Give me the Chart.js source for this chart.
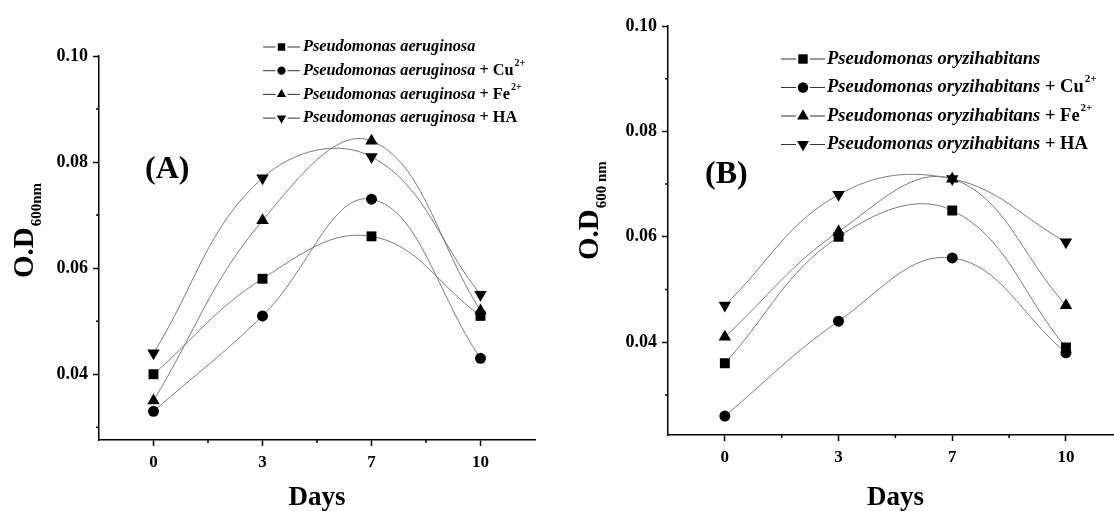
<!DOCTYPE html>
<html>
<head>
<meta charset="utf-8">
<script src="https://cdn.jsdelivr.net/npm/chart.js@4.4.1/dist/chart.umd.min.js"></script>
<style>
  html, body { margin: 0; padding: 0; background: #fff; overflow: hidden; width: 1114px; height: 511px; }
  #wrapA { position: absolute; left: 0; top: 0; }
  #wrapB { position: absolute; left: 557px; top: 0; }
</style>
</head>
<body>
<div id="wrapA"><canvas id="chartA" width="557" height="511"></canvas></div>
<div id="wrapB"><canvas id="chartB" width="573" height="511"></canvas></div>
<script>
// categories and tick labels
const days = ['0', '3', '7', '10'];
const yMajorTicks = [0.04, 0.06, 0.08, 0.10];
const yMinorTicks = [0.03, 0.05, 0.07, 0.09];
const xMinorTicks = [0.5, 1.5, 2.5];

// panel A, O.D 600nm
const aeruginosa   = [0.040, 0.058, 0.066, 0.051];
const aeruginosaCu = [0.033, 0.051, 0.073, 0.043];
const aeruginosaFe = [0.035, 0.069, 0.084, 0.052];
const aeruginosaHA = [0.044, 0.077, 0.081, 0.055];

// panel B, O.D 600 nm
const oryzihabitans   = [0.036, 0.060, 0.065, 0.039];
const oryzihabitansCu = [0.026, 0.044, 0.056, 0.038];
const oryzihabitansFe = [0.041, 0.061, 0.071, 0.047];
const oryzihabitansHA = [0.047, 0.068, 0.071, 0.059];

const suffixes = ['', ' + Cu', ' + Fe', ' + HA'];
const supers = ['', '2+', '2+', ''];

const pointStyles = ['rect', 'circle', 'triangle', 'triangle'];
const pointRots = [0, 0, 0, 180];
const pointSizes = [7, 5.5, 7.2, 7.2];
const SERIF = '"Liberation Serif", "Times New Roman", serif';

function makeDatasets(species, series) {
  return series.map((vals, i) => ({
    label: species + suffixes[i],
    data: vals.map((v, j) => ({ x: j, y: v })),
    borderColor: '#7a7a7a',
    borderWidth: 1,
    tension: 0.4,
    pointStyle: pointStyles[i],
    pointRotation: pointRots[i],
    pointRadius: pointSizes[i],
    pointBackgroundColor: '#000',
    pointBorderColor: '#000',
    pointBorderWidth: 0
  }));
}

// minor ticks, y title with subscript, panel letter, legend
const decor = {
  id: 'decor',
  afterDraw(chart, args, o) {
    const ctx = chart.ctx;
    const xs = chart.scales.x, ys = chart.scales.y;
    ctx.save();
    ctx.strokeStyle = '#000';
    ctx.lineWidth = 1.5;
    ctx.beginPath();
    yMinorTicks.forEach(v => {
      const py = ys.getPixelForValue(v);
      if (py >= ys.top && py <= ys.bottom) { ctx.moveTo(xs.left - 3, py); ctx.lineTo(xs.left, py); }
    });
    xMinorTicks.forEach(v => {
      const px = xs.getPixelForValue(v);
      ctx.moveTo(px, ys.bottom); ctx.lineTo(px, ys.bottom + 3);
    });
    ctx.stroke();

    ctx.fillStyle = '#000';
    // y title
    ctx.save();
    ctx.translate(o.titleX, o.titleY);
    ctx.rotate(-Math.PI / 2);
    ctx.textBaseline = 'alphabetic';
    ctx.textAlign = 'left';
    ctx.font = 'bold 29px ' + SERIF;
    ctx.fillText('O.D', 0, 0);
    const w = ctx.measureText('O.D').width;
    ctx.font = 'bold 15px ' + SERIF;
    ctx.fillText(o.sub, w + 1, 8);
    ctx.restore();

    // panel letter
    ctx.font = 'bold 32px ' + SERIF;
    ctx.textBaseline = 'middle';
    ctx.fillText(o.letter, o.letterX, o.letterY);

    // legend
    chart.data.datasets.forEach((ds, i) => {
      const cy = o.legY + i * o.legStep;
      ctx.strokeStyle = '#333';
      ctx.lineWidth = 1;
      ctx.beginPath();
      ctx.moveTo(o.legX0, cy); ctx.lineTo(o.legX1, cy);
      ctx.stroke();
      const mx = (o.legX0 + o.legX1) / 2;
      ctx.strokeStyle = '#fff';
      ctx.lineWidth = 3;
      ctx.beginPath();
      ctx.moveTo(mx - o.legGap, cy); ctx.lineTo(mx + o.legGap, cy);
      ctx.stroke();
      ctx.fillStyle = '#000';
      ctx.strokeStyle = '#000';
      ctx.lineWidth = 0;
      Chart.helpers.drawPoint(ctx, { pointStyle: pointStyles[i], rotation: pointRots[i], radius: pointSizes[i] * o.legScale, borderWidth: 0 }, mx, cy);
      let tx = o.legTextX;
      ctx.textBaseline = 'middle';
      ctx.font = 'italic bold ' + o.legFont + 'px ' + SERIF;
      ctx.fillText(o.species, tx, cy);
      tx += ctx.measureText(o.species).width;
      if (suffixes[i]) {
        ctx.font = 'bold ' + o.legFont + 'px ' + SERIF;
        ctx.fillText(suffixes[i], tx, cy);
        tx += ctx.measureText(suffixes[i]).width;
      }
      if (supers[i]) {
        ctx.font = 'bold ' + Math.round(o.legFont * 0.6) + 'px ' + SERIF;
        ctx.fillText(supers[i], tx + 1, cy - o.legFont * 0.45);
      }
    });
    ctx.restore();
  }
};

function makeChart(id, species, series, yMin, xMax, pad, yWidth, xHeight, deco) {
  return new Chart(document.getElementById(id), {
    type: 'line',
    data: { datasets: makeDatasets(species, series) },
    options: {
      responsive: false,
      animation: false,
      events: [],
      layout: { padding: pad },
      plugins: { legend: { display: false }, tooltip: { enabled: false }, decor: deco },
      scales: {
        x: {
          type: 'linear',
          min: -0.5,
          max: xMax,
          afterFit: s => { s.height = xHeight; },
          afterBuildTicks: s => { s.ticks = days.map((d, i) => ({ value: i })); },
          grid: { drawOnChartArea: false, drawTicks: true, tickLength: 6, tickWidth: 1.5, tickColor: '#000' },
          border: { display: true, color: '#000', width: 1.5 },
          ticks: {
            color: '#000',
            padding: 6,
            maxRotation: 0,
            font: { family: SERIF, size: 17, weight: 'bold' },
            callback: v => days[v]
          },
          title: {
            display: true,
            text: 'Days',
            color: '#000',
            padding: { top: 0, bottom: -3 },
            font: { family: SERIF, size: 27, weight: 'bold' }
          }
        },
        y: {
          type: 'linear',
          min: yMin,
          max: 0.10,
          afterFit: s => { s.width = yWidth; },
          afterBuildTicks: s => { s.ticks = yMajorTicks.map(v => ({ value: v })); },
          grid: { drawOnChartArea: false, drawTicks: true, tickLength: 6, tickWidth: 1.5, tickColor: '#000' },
          border: { display: true, color: '#000', width: 1.5 },
          ticks: {
            color: '#000',
            padding: 5,
            font: { family: SERIF, size: 18, weight: 'bold' },
            callback: v => v.toFixed(2)
          }
        }
      }
    },
    plugins: [decor]
  });
}

makeChart('chartA', 'Pseudomonas aeruginosa',
  [aeruginosa, aeruginosaCu, aeruginosaFe, aeruginosaHA],
  0.0276, 3.5, { left: 0, right: 22, top: 56, bottom: 0 }, 99, 71,
  { titleX: 33, titleY: 278, sub: '600nm', letter: '(A)', letterX: 145, letterY: 170,
    legX0: 263, legX1: 300, legGap: 6, legScale: 0.75, legTextX: 303, legY: 47, legStep: 23.7,
    legFont: 16.3, species: 'Pseudomonas aeruginosa' });

makeChart('chartB', 'Pseudomonas oryzihabitans',
  [oryzihabitans, oryzihabitansCu, oryzihabitansFe, oryzihabitansHA],
  0.0224, 3.5, { left: 0, right: 7, top: 26, bottom: 0 }, 111, 76,
  { titleX: 41, titleY: 260, sub: '600 nm', letter: '(B)', letterX: 148, letterY: 175,
    legX0: 224, legX1: 268, legGap: 7, legScale: 0.95, legTextX: 270, legY: 59, legStep: 28.5,
    legFont: 18.5, species: 'Pseudomonas oryzihabitans' });
</script>
</body>
</html>
